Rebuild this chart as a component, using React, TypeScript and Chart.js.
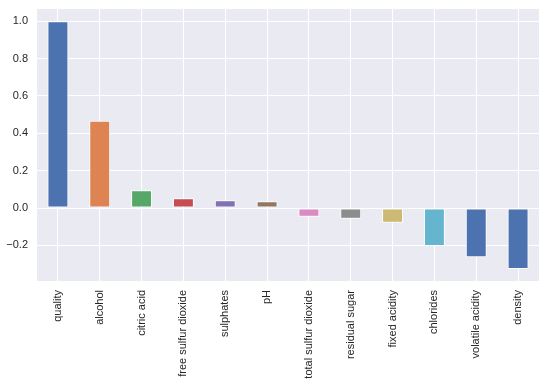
import React, { useEffect, useRef } from "react";
import { Chart, registerables } from "chart.js";

Chart.register(...registerables);

const categories = [
  "quality",
  "alcohol",
  "citric acid",
  "free sulfur dioxide",
  "sulphates",
  "pH",
  "total sulfur dioxide",
  "residual sugar",
  "fixed acidity",
  "chlorides",
  "volatile acidity",
  "density",
];

const correlations = [
  1.0, 0.467, 0.095, 0.052, 0.041, 0.036, -0.047, -0.058, -0.079, -0.203, -0.264, -0.327,
];

const barColors = [
  "#4C72B0", "#DD8452", "#55A868", "#C44E52", "#8172B3", "#937860",
  "#DA8BC3", "#8C8C8C", "#CCB974", "#64B5CD", "#4C72B0", "#4C72B0",
];

const yTickValues = [-0.2, 0.0, 0.2, 0.4, 0.6, 0.8, 1.0];

const yMin = -0.391;
const yMax = 1.066;

const plotBg = {
  id: "plotBg",
  beforeDraw(chart: any) {
    const { ctx, chartArea } = chart;
    ctx.save();
    ctx.fillStyle = "#EAEAF2";
    ctx.fillRect(chartArea.left, chartArea.top, chartArea.right - chartArea.left, chartArea.bottom - chartArea.top);
    ctx.restore();
  },
};

export default function App() {
  const ref = useRef<HTMLCanvasElement>(null);
  useEffect(() => {
    if (!ref.current) return;
    const font = { family: "'Liberation Sans', Arial, sans-serif", size: 11 };
    const chart = new Chart(ref.current, {
      type: "bar",
      data: {
        labels: categories,
        datasets: [
          {
            data: correlations,
            backgroundColor: barColors,
            borderColor: "#FFFFFF",
            borderWidth: 1,
            borderSkipped: false,
            barPercentage: 0.5,
            categoryPercentage: 1,
          },
        ],
      },
      options: {
        responsive: false,
        animation: false,
        devicePixelRatio: 1,
        layout: { padding: { top: 9, right: 12, left: 0, bottom: 0 } },
        plugins: { legend: { display: false }, tooltip: { enabled: false } },
        scales: {
          x: {
            offset: true,
            grid: { offset: false, color: "#FFFFFF", lineWidth: 1, drawTicks: false },
            border: { display: false },
            ticks: { font, color: "#262626", maxRotation: 90, minRotation: 90, padding: 9, autoSkip: false },
            afterFit(scale: any) {
              scale.height = 106;
              scale.paddingLeft = 0;
              scale.paddingRight = 0;
            },
          },
          y: {
            min: yMin,
            max: yMax,
            grid: { color: "#FFFFFF", lineWidth: 1, drawTicks: false },
            border: { display: false },
            ticks: {
              font,
              color: "#262626",
              padding: 9,
              callback: (v: any) => {
                const s = Number(v).toFixed(1);
                return s.replace("-", "\u2212");
              },
            },
            afterBuildTicks(scale: any) {
              scale.ticks = yTickValues.map((value) => ({ value }));
            },
            afterFit(scale: any) {
              scale.width = 37;
              scale.paddingTop = 0;
              scale.paddingBottom = 0;
            },
          },
        },
      },
      plugins: [plotBg],
    });
    return () => chart.destroy();
  }, []);
  return (
    <div style={{ position: "fixed", left: 0, top: 0, width: 551, height: 387, background: "#FFFFFF" }}>
      <canvas ref={ref} width={551} height={387} />
    </div>
  );
}
